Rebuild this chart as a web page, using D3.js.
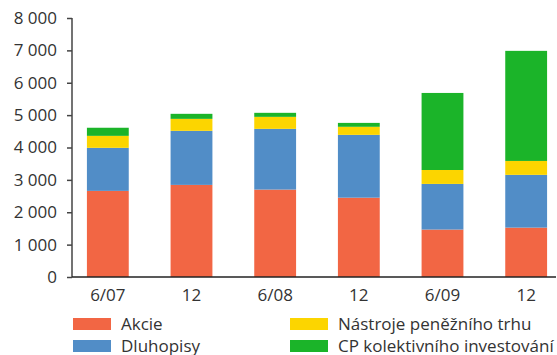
<!DOCTYPE html>
<html>
<head>
<meta charset="utf-8">
<script src="https://cdn.jsdelivr.net/npm/d3@7"></script>
<style>
  body { margin: 0; background: #fff; }
  text { font-family: "Open Sans", "Noto Sans", sans-serif; fill: #333; }
</style>
</head>
<body>
<div id="vis"></div>
<script>
// data
const periods = ['6/07', '12', '6/08', '12', '6/09', '12']
const seriesNames = ['Akcie', 'Dluhopisy', 'Nástroje peněžního trhu', 'CP kolektivního investování']
const akcie = [2660, 2845, 2700, 2450, 1465, 1525]
const dluhopisy = [1330, 1670, 1876, 1940, 1410, 1630]
const nastroje = [370, 370, 371, 250, 430, 430]
const cpKolektivni = [250, 155, 124, 120, 2380, 3400]
const yTicks = [0, 1000, 2000, 3000, 4000, 5000, 6000, 7000, 8000]
const colors = ['#f26644', '#518dc7', '#fcd500', '#1bb429']

const width = 557, height = 355
const fontSize = 17

const rows = periods.map((p, i) => ({
  key: i, label: p,
  s0: akcie[i], s1: dluhopisy[i], s2: nastroje[i], s3: cpKolektivni[i]
}))

const stack = d3.stack().keys(['s0', 's1', 's2', 's3'])
const layers = stack(rows)

const xScale = d3.scaleBand().domain(rows.map(d => d.key)).range([66, 568]).paddingInner(0.5).paddingOuter(0.25)
const yScale = d3.scaleLinear().domain([0, 8000]).range([277, 18])

let svg = d3.select('#vis').append('svg')
  .attr('width', width)
  .attr('height', height)

// bars
svg.selectAll('g.layer')
  .data(layers).enter()
  .append('g')
  .attr('class', 'layer')
  .attr('fill', (d, i) => colors[i])
  .selectAll('rect')
  .data(d => d).enter()
  .append('rect')
  .attr('x', d => xScale(d.data.key))
  .attr('width', xScale.bandwidth())
  .attr('y', d => yScale(d[1]))
  .attr('height', d => yScale(d[0]) - yScale(d[1]))

// y axis
let fmt = v => d3.format(',')(v).replace(/,/g, ' ')
let yAxis = d3.axisLeft(yScale).tickValues(yTicks).tickFormat(fmt).tickSize(5).tickPadding(10)
let gy = svg.append('g')
  .attr('transform', 'translate(72,0)')
  .call(yAxis)
gy.select('.domain').attr('stroke', '#444').attr('stroke-width', 1.5).attr('d', 'M0,18V277')
gy.selectAll('.tick line').attr('stroke', '#444').attr('stroke-width', 1.5)
gy.selectAll('.tick text').attr('font-size', fontSize).style('font-family', '"Open Sans", "Noto Sans", sans-serif').attr('fill', '#333')

// x axis baseline + labels
svg.append('line')
  .attr('x1', 72).attr('x2', 556)
  .attr('y1', yScale(0)).attr('y2', yScale(0))
  .attr('stroke', '#222').attr('stroke-width', 1.5)

svg.selectAll('.xlab')
  .data(rows).enter()
  .append('text')
  .attr('class', 'xlab')
  .attr('x', d => xScale(d.key) + xScale.bandwidth() / 2)
  .attr('y', 301)
  .attr('text-anchor', 'middle')
  .attr('font-size', fontSize)
  .text(d => d.label)

// legend
const legendPos = [[73, 318], [73, 340], [290, 318], [290, 340]]
let legend = svg.selectAll('.legend')
  .data(seriesNames).enter()
  .append('g')
  .attr('class', 'legend')
  .attr('transform', (d, i) => `translate(${legendPos[i][0]},${legendPos[i][1]})`)

legend.append('rect')
  .attr('width', 38).attr('height', 12)
  .attr('fill', (d, i) => colors[i])

legend.append('text')
  .attr('x', 48).attr('y', 12)
  .attr('font-size', fontSize)
  .text(d => d)
</script>
</body>
</html>
